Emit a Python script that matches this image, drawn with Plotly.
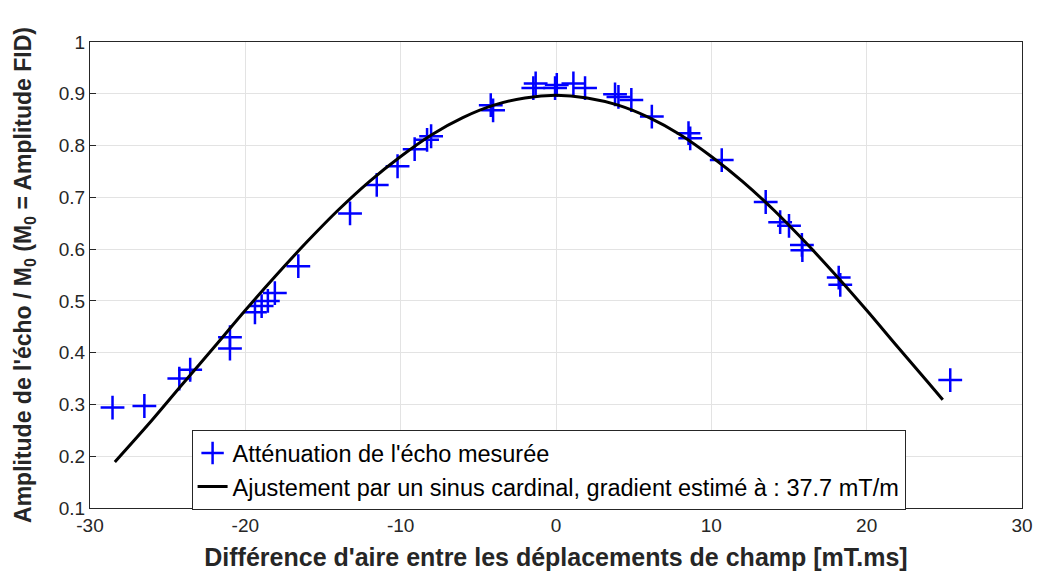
import plotly.graph_objects as go

# Measured echo attenuation points
meas_x = [-28.55, -26.5, -24.25, -23.55, -20.99, -20.99, -19.38, -18.95, -18.55, -18.1,
          -16.59, -13.26, -11.54, -10.2, -9.1, -8.3, -8.04, -4.2, -4.05,
          -1.46, -1.31, -0.06, 0.05, 1.12, 1.87, 3.8, 4.02, 4.85, 6.17, 8.53, 8.64,
          10.67, 13.5, 14.43, 15.0, 15.83, 15.86, 18.2, 18.3, 25.38]
meas_y = [0.294, 0.297, 0.350, 0.367, 0.430, 0.408, 0.478, 0.490, 0.500, 0.515,
          0.567, 0.669, 0.724, 0.760, 0.793, 0.811, 0.818, 0.878, 0.868,
          0.911, 0.920, 0.911, 0.917, 0.920, 0.911, 0.899, 0.894, 0.888, 0.856, 0.824, 0.814,
          0.772, 0.691, 0.652, 0.645, 0.608, 0.598, 0.545, 0.531, 0.347]

# Fitted cardinal-sine curve
fit_x = [-28.4, -26, -24, -22, -20, -18, -16, -14, -12, -10, -8, -6, -4, -2, 0,
         2, 4, 6, 8, 10, 12, 14, 16, 18, 20, 22, 24, 24.9]
fit_y = [0.189, 0.270, 0.341, 0.411, 0.482, 0.550, 0.615, 0.676, 0.731, 0.779, 0.821,
         0.854, 0.878, 0.892, 0.897,
         0.892, 0.878, 0.854, 0.821, 0.779, 0.731, 0.676, 0.615, 0.550, 0.482, 0.411,
         0.341, 0.309]

x_ticks = [-30, -20, -10, 0, 10, 20, 30]
y_ticks = [0.1, 0.2, 0.3, 0.4, 0.5, 0.6, 0.7, 0.8, 0.9, 1]

FONT = "Liberation Sans, Arial, Helvetica, sans-serif"
AX = "#262626"

fig = go.Figure()
fig.add_trace(go.Scatter(
    x=meas_x, y=meas_y, mode="markers",
    name="Atténuation de l'écho mesurée",
    marker=dict(symbol="cross-thin", size=17, color="#0000ff",
                line=dict(color="#0000ff", width=2.5)),
))
fig.add_trace(go.Scatter(
    x=fit_x, y=fit_y, mode="lines",
    name="Ajustement par un sinus cardinal, gradient estimé à : 37.7 mT/m",
    line=dict(color="black", width=3, shape="spline"),
))

axis_common = dict(
    showline=True, mirror=True, linecolor=AX, linewidth=1,
    ticks="inside", ticklen=6, tickcolor=AX,
    showgrid=True, gridcolor="#e3e3e3", gridwidth=1,
    zeroline=False, automargin=False,
    tickfont=dict(family=FONT, size=19, color=AX),
)

fig.update_layout(
    width=1038, height=574,
    paper_bgcolor="white", plot_bgcolor="white",
    margin=dict(l=90, r=16, t=42, b=66),
    font=dict(family=FONT, color=AX),
    xaxis=dict(range=[-30, 30], tickvals=x_ticks, ticktext=[str(v) for v in x_ticks],
               title=dict(text="<b>Différence d'aire entre les déplacements de champ [mT.ms]</b>",
                          font=dict(family=FONT, size=25, color=AX), standoff=13),
               **axis_common),
    yaxis=dict(range=[0.1, 1], tickvals=y_ticks,
               ticktext=["0.1", "0.2", "0.3", "0.4", "0.5", "0.6", "0.7", "0.8", "0.9", "1"],
               title=dict(text="<b>Amplitude de l'écho / M<sub>0</sub> (M<sub>0</sub> = Amplitude FID)</b>",
                          font=dict(family=FONT, size=23, color=AX), standoff=20),
               **axis_common),
    legend=dict(x=0.109, y=0.167, xanchor="left", yanchor="top",
                bgcolor="white", bordercolor=AX, borderwidth=1,
                font=dict(family=FONT, size=23.5, color="black"),
                tracegroupgap=0, itemwidth=30),
    showlegend=True,
)

fig.write_html("out.html", config={"displayModeBar": False},
               post_script="document.body.style.margin='0';")
